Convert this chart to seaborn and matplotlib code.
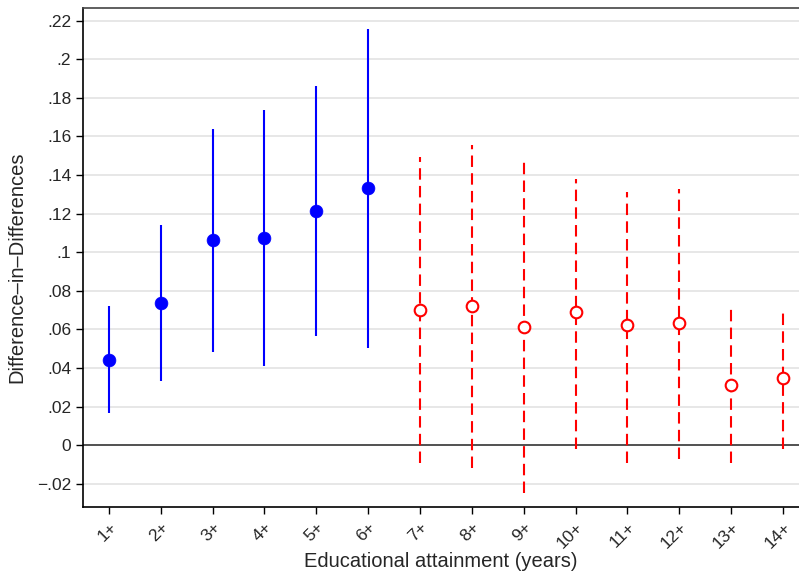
import matplotlib

matplotlib.use("Agg")
import matplotlib.pyplot as plt
import numpy as np
import pandas as pd
import seaborn as sns

# %% Data
years = np.arange(1, 15)
tick_labels = [f"{i}+" for i in years]

est = [0.0442, 0.0735, 0.1063, 0.1072, 0.1213, 0.1331,
       0.0700, 0.0719, 0.0610, 0.0691, 0.0621, 0.0631, 0.0311, 0.0349]
ci_high = [0.0720, 0.1139, 0.1638, 0.1735, 0.1860, 0.2157,
           0.1493, 0.1556, 0.1473, 0.1379, 0.1312, 0.1327, 0.0717, 0.0707]
ci_low = [0.0164, 0.0332, 0.0484, 0.0408, 0.0567, 0.0505,
          -0.0095, -0.0121, -0.0250, -0.0022, -0.0092, -0.0074, -0.0095, -0.0022]
group = ["sig"] * 6 + ["nonsig"] * 8

df = pd.DataFrame(
    {"year": years, "est": est, "lo": ci_low, "hi": ci_high, "group": group}
)
sig = df[df["group"] == "sig"]
non = df[df["group"] == "nonsig"]

# %% Style
sns.set_theme(style="white")
plt.rcParams["font.family"] = ["Liberation Sans", "DejaVu Sans"]

fig = plt.figure(figsize=(7.99, 5.73), dpi=100)
ax = fig.add_axes([0.1039, 0.1152, 0.8961, 0.8708])

# grid + zero line
yticks = np.round(np.arange(-0.02, 0.2201, 0.02), 2)
for t in yticks:
    if t != 0:
        ax.axhline(t, color="#e0e0e0", lw=1.1, zorder=0)
ax.axhline(0, color="#333333", lw=1.2, zorder=1)

# confidence intervals
ax.vlines(sig["year"], sig["lo"], sig["hi"], color="#0000ff", lw=1.5, zorder=2)
ax.vlines(non["year"], non["lo"], non["hi"], color="#ff0000", lw=1.5,
          linestyles=(0, (5.5, 3)), zorder=2)

# point estimates
sns.scatterplot(data=sig, x="year", y="est", ax=ax, color="#0000ff",
                s=85, edgecolor="#0000ff", linewidth=0.5, zorder=3, legend=False)
sns.scatterplot(data=non, x="year", y="est", ax=ax, facecolor="white",
                edgecolor="#ff0000", s=70, linewidth=1.5, zorder=3, legend=False)

ax.set_xlim(0.5, 14.31)
ax.set_ylim(-0.0321, 0.2266)


def fmt(v):
    if abs(v) < 1e-9:
        return "0"
    s = f"{abs(v):.2f}".rstrip("0").lstrip("0")
    return ("\u2212" if v < 0 else "") + s


ax.set_yticks(yticks)
ax.set_yticklabels([fmt(v) for v in yticks])
ax.set_xticks(years)
ax.set_xticklabels(tick_labels, rotation=45, ha="right", rotation_mode="anchor")

ax.tick_params(axis="both", which="both", direction="out", length=5, width=1,
               color="black", labelsize=12.5, bottom=True, left=True)
ax.tick_params(axis="x", pad=4)

for side in ["left", "bottom", "top"]:
    ax.spines[side].set_color("black")
    ax.spines[side].set_linewidth(1.2)
ax.spines["top"].set_color("#444444")
ax.spines["right"].set_visible(False)

ax.set_xlabel("Educational attainment (years)", fontsize=14.5)
ax.xaxis.set_label_coords(0.5, -0.090)
ax.set_ylabel("Difference\u2013in\u2013Differences", fontsize=14.5)
ax.yaxis.set_label_coords(-0.079, 0.48)

plt.savefig("out.png", dpi=100)
plt.close()
